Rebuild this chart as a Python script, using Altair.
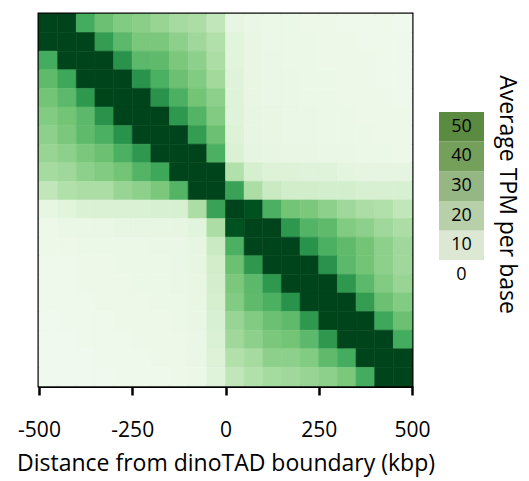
import altair as alt
import pandas as pd

# bin starts (kbp) for both axes
bin_starts = [-500, -450, -400, -350, -300, -250, -200, -150, -100, -50,
              0, 50, 100, 150, 200, 250, 300, 350, 400, 450]
bin_width = 50

# Average TPM per base, row by row (top row first)
row00 = [50, 50, 31, 26, 23, 22, 20, 18, 17, 13.5, 5.5, 4.5, 4, 4, 3.5, 3.5, 3, 3, 3, 2.5]
row01 = [50, 50, 50, 34, 28, 24, 24, 21.5, 19, 16, 7, 5, 4, 4, 4, 3.5, 3.5, 3, 3, 3]
row02 = [31, 50, 50, 50, 36, 28, 27.5, 24, 21.5, 17, 7, 5, 4.5, 4, 4, 3.5, 3.5, 3.5, 3, 3]
row03 = [27.5, 32, 50, 50, 50, 36, 30, 26, 23, 18.5, 7.5, 5, 4.5, 4.5, 4, 4, 3.5, 3.5, 3, 3]
row04 = [25, 28, 35, 50, 50, 50, 36, 30, 25, 21.5, 7.5, 5, 4.5, 4.5, 4, 4, 3.5, 3.5, 3.5, 3]
row05 = [23, 25, 28, 36, 50, 50, 50, 35, 29, 23, 7.5, 5.5, 5, 4.5, 4.5, 4, 4, 3.5, 3.5, 3.5]
row06 = [21.5, 24, 27.5, 30, 36, 50, 50, 50, 34, 26, 8, 5.5, 5, 4.5, 4.5, 4, 4, 4, 3.5, 3.5]
row07 = [20, 21.5, 24, 26, 30, 35, 50, 50, 50, 30, 8.5, 6, 5.5, 5, 5, 4.5, 4.5, 4, 4, 3.5]
row08 = [18, 19, 21.5, 23, 25, 29, 32, 50, 50, 50, 16, 9.5, 8, 8, 7.5, 7.5, 6.5, 6, 6, 6]
row09 = [13.5, 16, 17, 17, 20, 21.5, 24, 29, 50, 50, 33, 17, 12, 10.5, 10.5, 10, 10, 9, 9, 9]
row10 = [5.5, 7, 8.5, 8.5, 8.5, 8.5, 9, 9, 17, 33, 50, 48, 30, 25, 24, 21.5, 19, 17, 16, 13.5]
row11 = [3.5, 4.5, 4.5, 4.5, 5.5, 5.5, 5.5, 5.5, 7, 17, 48, 50, 50, 35, 29, 27.5, 23, 21.5, 19, 17]
row12 = [3.5, 3.5, 4, 4, 4, 4, 4.5, 4.5, 5.5, 12, 30, 50, 50, 50, 36, 30, 27.5, 25, 21.5, 19]
row13 = [3, 3, 3.5, 3.5, 4, 4, 4, 4.5, 5.5, 10.5, 26, 35, 50, 50, 50, 36, 28, 25, 21.5, 19]
row14 = [3, 3, 3.5, 3.5, 3.5, 4, 4, 4.5, 5, 10, 24, 28, 35, 50, 50, 50, 35, 28, 23, 20]
row15 = [3, 3, 3, 3.5, 3.5, 3.5, 4, 4, 5, 9.5, 23, 27.5, 30, 36, 50, 50, 50, 34, 26, 23]
row16 = [2.5, 3, 3, 3, 3.5, 3.5, 3.5, 4, 5, 9, 20, 23, 26, 27.5, 35, 50, 50, 50, 32, 26]
row17 = [2.5, 2.5, 3, 3, 3, 3.5, 3.5, 3.5, 4.5, 8.5, 19, 21.5, 24, 25, 28, 35, 50, 50, 50, 31]
row18 = [2.5, 2.5, 2.5, 3, 3, 3, 3.5, 3.5, 4.5, 8, 16, 18, 21.5, 21.5, 23, 27.5, 31, 50, 50, 50]
row19 = [2.5, 2.5, 2.5, 2.5, 3, 3, 3, 3.5, 4, 7.5, 13.5, 16, 18, 19, 20, 21.5, 24, 31, 50, 50]

rows = [row00, row01, row02, row03, row04, row05, row06, row07, row08, row09,
        row10, row11, row12, row13, row14, row15, row16, row17, row18, row19]

# legend entries
legend_values = [0, 10, 20, 30, 40, 50]
legend_colors = ["#ffffff", "#dce8d4", "#b8d0aa", "#95b783", "#74a05c", "#5b8b41"]

x_ticks = [-500, -250, 0, 250, 500]

# colour ramp (ColorBrewer Greens, 9 classes) spread evenly over 0..50
ramp_colors = ["#f7fcf5", "#e5f5e0", "#c7e9c0", "#a1d99b", "#74c476",
               "#41ab5d", "#238b45", "#006d2c", "#00441b"]
ramp_stops = [50 * i / 8 for i in range(9)]

records = []
for r, vals in enumerate(rows):
    for c, v in enumerate(vals):
        records.append({
            "x0": bin_starts[c], "x1": bin_starts[c] + bin_width,
            "y0": bin_starts[r], "y1": bin_starts[r] + bin_width,
            "tpm": v,
        })
df = pd.DataFrame(records)

FONT = "Open Sans"

color_scale = alt.Scale(type="linear", domain=ramp_stops, range=ramp_colors,
                        interpolate="rgb", clamp=True)

heat = alt.Chart(df).mark_rect(strokeWidth=0.6).encode(
    x=alt.X("x0:Q", scale=alt.Scale(domain=[-500, 500], nice=False, zero=False),
            axis=alt.Axis(values=x_ticks, labelExpr="'' + datum.value",
                          title="Distance from dinoTAD boundary (kbp)",
                          grid=False, domain=True, domainColor="black", domainWidth=3,
                          ticks=True, tickColor="black", tickWidth=2.5, tickSize=9,
                          labelFontSize=21, labelColor="black", labelPadding=24,
                          labelFont=FONT, labelFlush=False,
                          titleFont=FONT, titleFontSize=23, titleFontWeight="normal",
                          titleColor="black", titlePadding=12)),
    x2="x1:Q",
    y=alt.Y("y0:Q", scale=alt.Scale(domain=[-500, 500], nice=False, zero=False, reverse=True),
            axis=None),
    y2="y1:Q",
    color=alt.Color("tpm:Q", scale=color_scale, legend=None),
    stroke=alt.Stroke("tpm:Q", scale=color_scale, legend=None),
).properties(width=373, height=372,
             view=alt.ViewBackground(stroke="black", strokeWidth=3))

leg_df = pd.DataFrame({
    "val": legend_values,
    "lo": [v - 5 for v in legend_values],
    "hi": [v + 5 for v in legend_values],
    "col": legend_colors,
    "key": ["k"] * len(legend_values),
})

leg_y = alt.Scale(domain=[-37.4, 88], nice=False, zero=False)

leg_rect = alt.Chart(leg_df).mark_rect().encode(
    x=alt.X("key:N", axis=None, scale=alt.Scale(paddingInner=0, paddingOuter=0)),
    y=alt.Y("lo:Q", scale=leg_y,
            axis=alt.Axis(orient="right", labels=False, ticks=False, domain=False, grid=False,
                          title="Average TPM per base", titleFont=FONT, titleFontSize=23,
                          titleFontWeight="normal", titleColor="black", titlePadding=10,
                          titleY=180)),
    y2="hi:Q",
    color=alt.Color("col:N", scale=None, legend=None),
)

leg_text = alt.Chart(leg_df).mark_text(font=FONT, fontSize=18, color="black").encode(
    x=alt.X("key:N", axis=None),
    y=alt.Y("val:Q", scale=leg_y),
    text=alt.Text("val:Q"),
)

legend = (leg_rect + leg_text).properties(
    width=45, height=372,
    view=alt.ViewBackground(stroke="transparent", strokeWidth=0))

chart = alt.hconcat(heat, legend, spacing=27, bounds="flush").properties(
    padding={"left": 14, "top": 12, "right": 6, "bottom": 5},
    background="white",
).configure_view(stroke="transparent")

chart.save("out.html", embed_options={"renderer": "svg", "actions": False})
